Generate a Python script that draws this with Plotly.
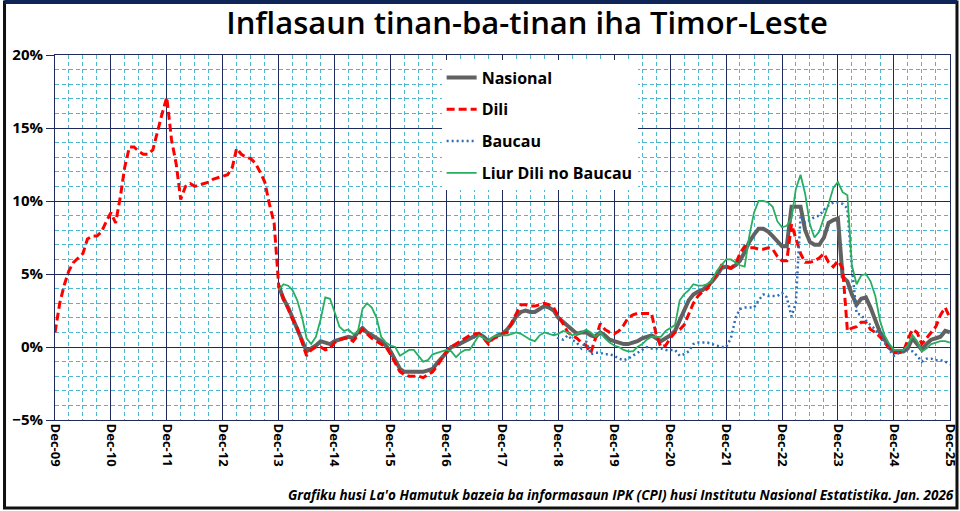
import pandas as pd
import plotly.graph_objects as go

# ---------------- data (monthly, year-on-year inflation, %) ----------------
dili_start = "2009-12-01"
dili = [1.0, 3.0, 4.3, 5.2, 5.8, 6.1, 6.4, 7.4, 7.6, 7.6, 7.9, 8.6,
        9.2, 8.5, 10.3, 12.3, 13.7, 13.7, 13.4, 13.2, 13.2, 13.5, 14.8, 16.0,
        17.1, 14.2, 12.5, 10.1, 11.0, 11.2, 11.0, 11.1, 11.2, 11.3, 11.5, 11.6,
        11.7, 11.8, 12.3, 13.6, 13.2, 13.0, 12.9, 12.6, 12.0, 11.3, 9.8, 8.5,
        4.2, 3.3, 2.6, 1.9, 1.3, 0.4, -0.6, -0.2, 0.0, 0.0, -0.2, -0.1,
        0.3, 0.5, 0.6, 0.6, 0.4, 0.8, 1.2, 0.9, 0.6, 0.4, 0.2, 0.0,
        -0.5, -1.1, -1.7, -1.9, -2.0, -2.0, -2.0, -2.1, -1.9, -1.7, -1.3, -0.8,
        -0.3, 0.0, 0.2, 0.4, 0.6, 0.8, 0.9, 0.9, 0.6, 0.2, 0.6, 0.7,
        0.9, 1.0, 1.7, 2.3, 2.9, 2.9, 2.8, 2.8, 2.9, 3.0, 2.9, 2.7,
        2.1, 1.6, 1.0, 0.8, 0.6, 0.3, 0.1, -0.4, 0.6, 1.6, 1.2, 1.0,
        0.9, 1.1, 1.5, 2.0, 2.2, 2.3, 2.3, 2.3, 2.3, 0.8, 0.0, 0.1,
        0.6, 1.0, 1.2, 1.5, 2.2, 3.0, 3.5, 3.8, 4.0, 4.6, 5.0, 5.6,
        5.5, 5.4, 5.7, 6.4, 6.9, 6.8, 6.8, 6.7, 6.7, 6.8, 6.7, 6.2,
        5.9, 5.9, 8.4, 7.5, 6.4, 5.8, 5.8, 5.9, 6.1, 6.4, 5.8, 5.5,
        5.9, 5.4, 1.1, 1.3, 1.4, 1.7, 1.7, 1.2, 1.0, 0.7, 0.3, -0.1,
        -0.4, -0.4, -0.3, 0.5, 1.2, 1.0, 0.2, 0.6, 1.0, 1.4, 2.2, 2.7, 2.0]

nasional_start = "2013-12-01"
nasional = [4.2, 3.3, 2.7, 2.0, 1.4, 0.6, -0.3, -0.1, 0.1, 0.4, 0.3, 0.2,
            0.4, 0.5, 0.6, 0.7, 0.6, 1.0, 1.3, 1.0, 0.8, 0.6, 0.4, 0.1,
            -0.3, -0.9, -1.5, -1.7, -1.7, -1.7, -1.7, -1.7, -1.6, -1.5, -1.1, -0.7,
            -0.3, 0.0, 0.1, 0.25, 0.45, 0.6, 0.8, 0.9, 0.7, 0.4, 0.6, 0.8,
            0.9, 1.2, 1.6, 2.1, 2.4, 2.5, 2.4, 2.4, 2.6, 2.8, 2.7, 2.5,
            2.0, 1.7, 1.4, 1.2, 0.9, 1.0, 1.0, 0.8, 0.7, 1.0, 0.8, 0.5,
            0.4, 0.3, 0.2, 0.2, 0.3, 0.4, 0.6, 0.7, 0.8, 0.6, 0.4, 0.6,
            0.8, 1.1, 1.8, 2.4, 3.2, 3.6, 3.8, 3.9, 4.2, 4.5, 4.9, 5.4,
            5.5, 5.4, 5.6, 5.9, 6.5, 7.2, 7.7, 8.1, 8.1, 7.9, 7.6, 7.2,
            6.9, 6.9, 9.6, 9.6, 9.6, 8.0, 7.2, 7.0, 7.0, 7.5, 8.5, 8.7,
            8.8, 4.8, 4.5, 3.6, 2.9, 3.3, 3.4, 2.7, 1.8, 1.0, 0.5, 0.0,
            -0.3, -0.3, -0.3, -0.1, 0.6, 0.2, -0.2, 0.2, 0.5, 0.6, 0.7, 1.1, 1.0]

baucau_start = "2018-11-01"
baucau = [0.9, 0.6, 0.5, 0.8, 0.5, 0.3, -0.1, 0.4, -0.5, -0.4, -0.4, -0.5, -0.5,
          -0.6, -0.8, -0.9, -0.8, -0.6, -0.4, -0.2, 0.0, -0.1, -0.1, -0.1, -0.2,
          -0.2, -0.2, -0.6, -0.5, -0.3, 0.2, 0.3, 0.3, 0.3, 0.2, 0.1, 0.0,
          0.0, 0.6, 2.0, 2.6, 2.7, 2.7, 2.7, 3.2, 3.6, 3.5, 3.5, 3.5,
          3.7, 3.4, 2.1, 3.0, 9.0, 8.5, 8.7, 8.9, 9.0, 9.4, 9.7, 9.9,
          9.9, 9.8, 9.5, 5.5, 2.3, 2.2, 1.8, 1.5, 1.2, 0.8, 0.3, -0.2,
          -0.6, -0.4, -0.2, -0.2, -0.3, -0.6, -1.0, -0.8, -0.8, -0.9, -0.9, -1.0, -1.2]

liur_start = "2013-12-01"
liur = [3.9, 4.3, 4.2, 3.9, 3.2, 2.1, 0.6, 0.2, 0.7, 1.9, 3.4, 3.3,
        2.4, 1.4, 1.1, 1.2, 0.9, 1.0, 2.6, 3.0, 2.7, 2.0, 0.7, 0.3,
        0.1, 0.0, -0.6, -0.4, -0.2, -0.2, -0.6, -1.0, -0.9, -0.5, -0.4, -0.3,
        -0.2, -0.3, -0.7, -0.4, -0.2, -0.2, 0.3, 0.8, 0.6, 0.4, 0.7, 0.8,
        0.8, 0.8, 0.9, 1.0, 0.9, 0.7, 0.5, 0.4, 0.8, 1.0, 0.9, 0.8,
        0.9, 1.1, 1.0, 0.8, 0.9, 1.0, 1.2, 1.0, 0.7, 1.0, 0.6, 0.3,
        0.1, 0.0, -0.2, -0.3, -0.3, 0.0, 0.2, 0.5, 0.7, 0.7, 0.7, 1.1,
        1.3, 1.5, 3.2, 3.6, 3.9, 4.3, 4.2, 4.2, 4.3, 4.6, 5.2, 5.6,
        6.0, 6.0, 5.8, 5.6, 5.5, 7.6, 9.2, 10.0, 10.0, 9.9, 9.6, 8.6,
        8.2, 8.3, 8.8, 10.8, 11.8, 10.5, 8.4, 7.5, 7.9, 8.8, 9.8, 10.9,
        11.3, 10.6, 10.4, 5.6, 4.3, 4.9, 5.0, 4.5, 3.5, 1.8, 0.8, 0.2,
        -0.2, -0.2, -0.2, 0.1, 0.8, 0.4, -0.3, -0.1, 0.2, 0.3, 0.4, 0.4, 0.3]

series_names = ["Nasional", "Dili", "Baucau", "Liur Dili no Baucau"]
title_text = "Inflasaun tinan-ba-tinan iha Timor-Leste"
source_text = ("Grafiku husi La'o Hamutuk bazeia ba informasaun IPK (CPI) husi "
               "Institutu Nasional Estatistika. Jan. 2026")
x_start, x_end = "2009-12-01", "2025-12-01"


def months(start, values):
    return pd.date_range(start, periods=len(values), freq="MS")


NAVY = "#1F2A5C"
MINOR = "#4FB6CF"
FONT = "Open Sans"

fig = go.Figure()
fig.add_trace(go.Scatter(x=months(nasional_start, nasional), y=nasional,
                         name=series_names[0], mode="lines", legendgroup="a",
                         line=dict(color="#616161", width=4)))
fig.add_trace(go.Scatter(x=months(dili_start, dili), y=dili,
                         name=series_names[1], mode="lines", legendgroup="b",
                         line=dict(color="#FF0000", width=3, dash="8px,4px")))
fig.add_trace(go.Scatter(x=months(baucau_start, baucau), y=baucau,
                         name=series_names[2], mode="lines", legendgroup="c",
                         line=dict(color="#2E6DB4", width=2.5, dash="2px,3px")))
fig.add_trace(go.Scatter(x=months(liur_start, liur), y=liur,
                         name=series_names[3], mode="lines", legendgroup="d",
                         line=dict(color="#27AE60", width=1.8)))

fig.update_layout(
    width=960, height=511, autosize=False,
    margin=dict(l=55, r=10, t=55, b=91),
    paper_bgcolor="white", plot_bgcolor="white",
    font=dict(family=FONT, color="#000000"),
    title=dict(text=title_text, x=0.549, xanchor="center", y=0.955, yanchor="middle",
               font=dict(family=FONT, size=31, color="#000000", weight=600)),
    showlegend=True,
    legend=dict(x=0.432, y=0.985, xanchor="left", yanchor="top",
                bgcolor="white", borderwidth=0, tracegroupgap=8,
                font=dict(family=FONT, size=16, color="#000000", weight="bold"),
                itemwidth=30),
)

fig.update_xaxes(
    type="date", range=[x_start, "2025-12-02"], automargin=False,
    tick0=x_start, dtick="M12", tickformat="%b-%y", tickangle=90,
    tickfont=dict(family=FONT, size=13, color="#000000", weight="bold"),
    showgrid=True, gridcolor=NAVY, gridwidth=1,
    showline=True, linecolor=NAVY, linewidth=1, mirror=True,
    ticks="", zeroline=False,
    minor=dict(dtick="M3", tick0=x_start, showgrid=True, gridcolor=MINOR,
               griddash="4px,3px", gridwidth=1),
)
fig.update_yaxes(
    range=[-5, 20], dtick=5, tick0=0, ticksuffix="%", automargin=False,
    tickfont=dict(family=FONT, size=15, color="#000000", weight="bold"),
    showgrid=True, gridcolor=NAVY, gridwidth=1,
    showline=True, linecolor=NAVY, linewidth=1, mirror=True,
    ticks="outside", ticklen=8, tickcolor=NAVY, zeroline=False,
    minor=dict(dtick=1, showgrid=True, gridcolor=MINOR,
               griddash="4px,3px", gridwidth=1),
)

fig.add_annotation(text="<i><b>" + source_text + "</b></i>", xref="paper", yref="paper",
                   x=1.007, y=-0.205, xanchor="right", yanchor="middle", showarrow=False,
                   font=dict(family=FONT, size=13.5, color="#000000"))

# outer frame
fig.add_shape(type="rect", xref="paper", yref="paper",
              x0=-0.0564, x1=1.0078, y0=-0.241, y1=1.145,
              line=dict(color="#111111", width=3), layer="above")
fig.add_shape(type="line", xref="paper", yref="paper",
              x0=-0.0564, x1=1.0078, y0=1.145, y1=1.145,
              line=dict(color="#0F2557", width=4), layer="above")

fig.write_html("out.html",
               config={"displayModeBar": False, "responsive": False},
               post_script="document.body.style.margin='0';document.body.style.overflow='hidden';")
